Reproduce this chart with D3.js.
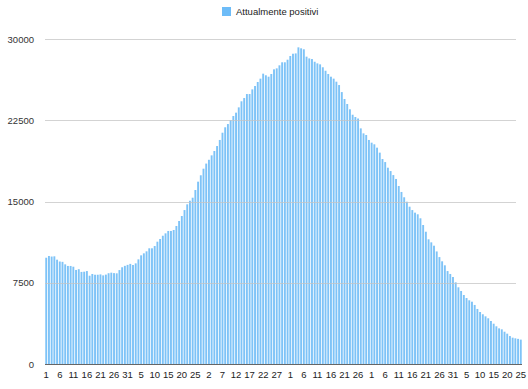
<!DOCTYPE html>
<html>
<head>
<meta charset="utf-8">
<script src="https://cdn.jsdelivr.net/npm/d3@7"></script>
<style>
  html, body { margin: 0; padding: 0; background: #fff; }
  svg { display: block; font-family: "Liberation Sans", Arial, Helvetica, sans-serif; }
</style>
</head>
<body>
<svg id="chart" width="528" height="389"></svg>
<script>
// ---- Data ----
const seriesName = "Attualmente positivi";
// Month lengths covered by the chart (1 Jan .. 25 Jun)
const monthLengths = [31, 28, 31, 30, 31, 25];
const values = [
  9810, 9970, 9920, 9940, 9630, 9460, 9430, 9200, 9050, 9050,
  8980, 8680, 8750, 8500, 8520, 8580, 8150, 8310, 8240, 8240,
  8270, 8180, 8250, 8380, 8430, 8390, 8370, 8670, 8930, 9060,
  9150, 9240, 9140, 9290, 9660, 10030, 10215, 10400, 10680, 10680,
  10890, 11290, 11540, 11840, 12060, 12280, 12280, 12370, 12740, 13200,
  13660, 14210, 14740, 15070, 15350, 16060, 16830, 17420, 18030, 18500,
  18850, 19260, 19660, 20120, 20680, 21350, 21850, 22150, 22520, 22890,
  23200, 23690, 24250, 24550, 24920, 24920, 25350, 25660, 26030, 26340,
  26800, 26650, 26520, 26770, 27200, 27290, 27570, 27850, 27850, 28090,
  28430, 28640, 28670, 29230, 29140, 29050, 28370, 28210, 28150, 27900,
  27750, 27660, 27390, 27070, 26770, 26520, 26340, 26060, 25750, 25100,
  24460, 24000, 23510, 23010, 22800, 22660, 21750, 21290, 21140, 20680,
  20430, 20280, 19970, 19510, 18920, 18640, 18120, 17810, 17440, 17080,
  16430, 15880, 15390, 14980, 14520, 14210, 13970, 13820, 13450, 12830,
  12210, 11510, 11230, 10920, 10390, 9870, 9480, 9110, 8580, 8310,
  8030, 7540, 7080, 6740, 6370, 6090, 5880, 5750, 5450, 5080,
  4800, 4590, 4400, 4220, 3970, 3720, 3480, 3290, 3200, 2980,
  2800, 2580, 2430, 2370, 2320, 2250
];
const yTicks = [0, 7500, 15000, 22500, 30000];

// categories: day-of-month labels
const categories = [];
monthLengths.forEach((len, m) => {
  for (let d = 1; d <= len; d++) categories.push({ key: m + "-" + d, day: d });
});
const data = categories.map((c, i) => ({ key: c.key, day: c.day, value: values[i] }));

// ---- Layout ----
const svg = d3.select("#chart");
const mLeft = 45, mRight = 522, mTop = 39, mBottom = 364;

const x = d3.scaleBand()
  .domain(data.map(d => d.key))
  .range([mLeft, mRight])
  .paddingInner(0.3)
  .paddingOuter(0.1);

const y = d3.scaleLinear()
  .domain([0, 30000])
  .range([mBottom, mTop]);

// Bars
svg.append("g")
  .selectAll("rect")
  .data(data)
  .join("rect")
  .attr("x", d => x(d.key))
  .attr("y", d => y(d.value))
  .attr("width", x.bandwidth())
  .attr("height", d => y(0) - y(d.value))
  .attr("fill", "#7ec3f7");

// Gridlines (drawn over bars, translucent)
const grid = svg.append("g");
grid.selectAll("line")
  .data(yTicks.filter(t => t > 0))
  .join("line")
  .attr("x1", mLeft)
  .attr("x2", 516)
  .attr("y1", d => Math.round(y(d)) + 0.5)
  .attr("y2", d => Math.round(y(d)) + 0.5)
  .attr("stroke", "#c4c4c4")
  .attr("stroke-opacity", 0.75)
  .attr("stroke-width", 1);

// Y axis labels
const yAxis = d3.axisLeft(y).tickValues(yTicks).tickFormat(d3.format("d")).tickSize(0).tickPadding(0);
const yg = svg.append("g").attr("transform", `translate(34,0)`).call(yAxis);
yg.select(".domain").remove();
yg.selectAll("text")
  .attr("font-size", "9.5px")
  .attr("fill", "#333")
  .attr("font-family", "Liberation Sans, Arial, sans-serif");

// X axis
const xAxis = d3.axisBottom(x)
  .tickValues(data.filter((d, i) => i % 5 === 0).map(d => d.key))
  .tickFormat(k => data.find(d => d.key === k).day)
  .tickSize(0)
  .tickPadding(7);
const xg = svg.append("g").attr("transform", `translate(0,${mBottom})`).call(xAxis);
xg.select(".domain").remove();
xg.selectAll("text")
  .attr("font-size", "9.5px")
  .attr("fill", "#222")
  .attr("font-family", "Liberation Sans, Arial, sans-serif");

svg.append("line")
  .attr("x1", mLeft).attr("x2", mRight)
  .attr("y1", mBottom + 0.5).attr("y2", mBottom + 0.5)
  .attr("stroke", "#666").attr("stroke-width", 1);

// Legend
const legend = svg.append("g");
legend.append("rect")
  .attr("x", 222).attr("y", 7).attr("width", 9).attr("height", 9)
  .attr("fill", "#6dbcf8");
legend.append("text")
  .attr("x", 236).attr("y", 15)
  .attr("font-size", "9.5px")
  .attr("fill", "#222")
  .text(seriesName);
</script>
</body>
</html>
